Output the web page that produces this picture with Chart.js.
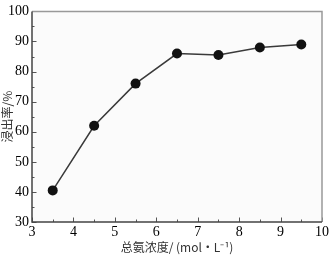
<!DOCTYPE html>
<html>
<head>
<meta charset="utf-8">
<script src="https://cdn.jsdelivr.net/npm/chart.js@4"></script>
<style>
  html, body { margin: 0; padding: 0; background: #fff; }
  #wrap { width: 331px; height: 255px; }
</style>
</head>
<body>
<div id="wrap"><canvas id="c" width="331" height="255"></canvas></div>
<script>
const concentration = [3.5, 4.5, 5.5, 6.5, 7.5, 8.5, 9.5]
const leachRate = [40.5, 62, 76, 86, 85.5, 88, 89]
const xTicks = [3, 4, 5, 6, 7, 8, 9, 10]
const yTicks = [30, 40, 50, 60, 70, 80, 90, 100]

// inward ticks + box frame, drawn with the scales' own pixel mapping
const frame = {
  id: 'frame',
  beforeDatasetsDraw (chart) {
    const { ctx, chartArea: a, scales } = chart
    ctx.save()
    ctx.fillStyle = '#fbfbfb'
    ctx.fillRect(a.left, a.top, a.right - a.left, a.bottom - a.top)
    ctx.lineWidth = 1
    ctx.strokeStyle = '#555'
    for (let v = 3.5; v < 10; v += 1) {
      const x = Math.round(scales.x.getPixelForValue(v)) + 0.5
      ctx.beginPath(); ctx.moveTo(x, a.bottom); ctx.lineTo(x, a.bottom - 2.5); ctx.stroke()
    }
    xTicks.forEach(v => {
      const x = Math.round(scales.x.getPixelForValue(v)) + 0.5
      ctx.beginPath(); ctx.moveTo(x, a.bottom); ctx.lineTo(x, a.bottom - 4.5); ctx.stroke()
    })
    for (let v = 35; v < 100; v += 10) {
      const y = Math.round(scales.y.getPixelForValue(v)) + 0.5
      ctx.beginPath(); ctx.moveTo(a.left, y); ctx.lineTo(a.left + 2.5, y); ctx.stroke()
    }
    yTicks.forEach(v => {
      const y = Math.round(scales.y.getPixelForValue(v)) + 0.5
      ctx.beginPath(); ctx.moveTo(a.left, y); ctx.lineTo(a.left + 4.5, y); ctx.stroke()
    })
    // top and right border (lighter)
    ctx.strokeStyle = '#999'
    ctx.lineWidth = 1.5
    ctx.beginPath()
    ctx.moveTo(a.left, a.top); ctx.lineTo(a.right, a.top); ctx.lineTo(a.right, a.bottom)
    ctx.stroke()
    // left and bottom border (darker)
    ctx.strokeStyle = '#444'
    ctx.beginPath()
    ctx.moveTo(a.left, a.top); ctx.lineTo(a.left, a.bottom); ctx.lineTo(a.right, a.bottom)
    ctx.stroke()
    ctx.restore()
  }
}

const serif = { family: 'Liberation Serif, Times New Roman, serif', size: 14 }
const cjk = { family: '"Noto Sans CJK SC", sans-serif', size: 12 }

new Chart(document.getElementById('c').getContext('2d'), {
  type: 'line',
  data: {
    datasets: [
      {
        data: concentration.map((x, i) => ({ x: x, y: leachRate[i] })),
        borderColor: '#3a3a3a',
        borderWidth: 1.5,
        pointRadius: 5,
        pointBackgroundColor: '#111',
        pointBorderColor: '#111',
        pointBorderWidth: 0,
        tension: 0
      }
    ]
  },
  options: {
    responsive: false,
    animation: false,
    layout: { padding: { top: 4, right: 9, left: 0, bottom: 0 } },
    scales: {
      x: {
        type: 'linear',
        min: 3,
        max: 10,
        afterBuildTicks: s => { s.ticks = xTicks.map(v => ({ value: v })) },
        afterFit: s => { s.height = 33 },
        grid: { display: false, drawTicks: false },
        border: { display: false },
        ticks: { color: '#000', font: serif, padding: 2, maxRotation: 0 },
        title: { display: true, text: '总氨浓度/ (mol·L⁻¹)', color: '#333', font: cjk, padding: { top: 0, bottom: 0 } }
      },
      y: {
        min: 30,
        max: 100,
        afterBuildTicks: s => { s.ticks = yTicks.map(v => ({ value: v })) },
        afterFit: s => { s.width = 32 },
        grid: { display: false, drawTicks: false },
        border: { display: false },
        ticks: { color: '#000', font: serif, padding: 3 },
        title: { display: true, text: '浸出率/%', color: '#333', font: cjk, padding: { top: 0, bottom: 0 } }
      }
    },
    plugins: {
      legend: { display: false },
      tooltip: { enabled: false }
    }
  },
  plugins: [frame]
})
</script>
</body>
</html>
